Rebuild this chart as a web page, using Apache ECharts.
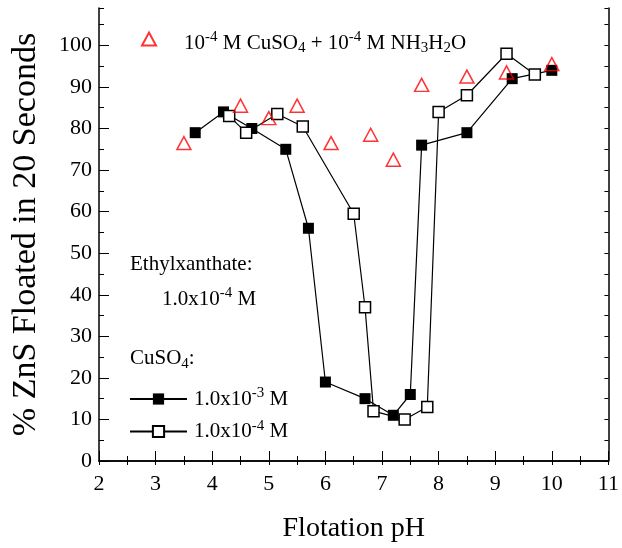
<!DOCTYPE html>
<html>
<head>
<meta charset="utf-8">
<script src="https://cdn.jsdelivr.net/npm/echarts@6/dist/echarts.min.js"></script>
<style>
  html, body { margin: 0; padding: 0; background: #fff; }
  #chart { width: 622px; height: 548px; }
</style>
</head>
<body>
<div id="chart"></div>
<script>
// flotation of ZnS vs pH, ethylxanthate 1.0x10^-4 M
const phHigh = [3.7, 4.2, 4.7, 5.3, 5.7, 6.0, 6.7, 7.2, 7.5, 7.7, 8.5, 9.3, 10.0]
const floatHigh = [79, 84, 80, 75, 56, 19, 15, 11, 16, 76, 79, 92, 94]

const phLow = [4.3, 4.6, 5.15, 5.6, 6.5, 6.7, 6.85, 7.4, 7.8, 8.0, 8.5, 9.2, 9.7]
const floatLow = [83, 79, 83.5, 80.5, 59.5, 37, 12, 10, 13, 84, 88, 98, 93]

const phNh3 = [3.5, 4.5, 5.0, 5.5, 6.1, 6.8, 7.2, 7.7, 8.5, 9.2, 10.0]
const floatNh3 = [76.5, 85.5, 82.5, 85.5, 76.5, 78.5, 72.5, 90.5, 92.5, 93.5, 95.5]

const xTitle = 'Flotation pH'
const yTitle = '% ZnS Floated in 20 Seconds'

const FONT = 'Liberation Serif'
const pairs = (xs, ys) => xs.map((x, i) => [x, ys[i]])

const rich = {
  n: { fontFamily: FONT, fontSize: 21, lineHeight: 26, color: '#000' },
  sup: { fontFamily: FONT, fontSize: 15, lineHeight: 14, verticalAlign: 'top', color: '#000' },
  sub: { fontFamily: FONT, fontSize: 15, lineHeight: 14, verticalAlign: 'bottom', color: '#000' },
}

const legendText = {
  nh3: '{n|10}{sup|-4}{n| M CuSO}{sub|4}{n| + 10}{sup|-4}{n| M NH}{sub|3}{n|H}{sub|2}{n|O}',
  high: '{n|1.0x10}{sup|-3}{n| M}',
  low: '{n|1.0x10}{sup|-4}{n| M}',
}

const chart = echarts.init(document.getElementById('chart'))

const tickLine = { color: '#000', width: 1 }

chart.setOption({
  animation: false,
  grid: { left: 99, right: 9, top: 8, bottom: 86 },
  xAxis: [{
    type: 'value', position: 'bottom', min: 2, max: 11, interval: 1,
    name: xTitle, nameLocation: 'middle', nameGap: 54,
    nameTextStyle: { fontFamily: FONT, fontSize: 28, color: '#000' },
    axisLine: { lineStyle: { color: '#000', width: 1.5 } },
    axisTick: { inside: true, length: 10, lineStyle: tickLine },
    minorTick: { show: true, splitNumber: 2, length: 5, lineStyle: tickLine },
    axisLabel: { fontFamily: FONT, fontSize: 22, color: '#000', margin: 12 },
    splitLine: { show: false },
  }, {
    type: 'value', position: 'top', min: 2, max: 11, interval: 0.5,
    axisLine: { show: true, lineStyle: { color: '#000', width: 1.5 } },
    axisTick: { inside: true, length: 4, lineStyle: tickLine },
    axisLabel: { show: false },
    splitLine: { show: false },
  }],
  yAxis: [{
    type: 'value', position: 'left', min: 0, max: 109, interval: 10,
    name: yTitle, nameLocation: 'middle', nameGap: 56, nameRotate: 90,
    nameTextStyle: { fontFamily: FONT, fontSize: 34, color: '#000' },
    axisLine: { show: true, lineStyle: { color: '#000', width: 1.5 } },
    axisTick: { inside: true, length: 10, lineStyle: tickLine },
    axisLabel: { fontFamily: FONT, fontSize: 22, color: '#000', margin: 7, showMaxLabel: false },
    splitLine: { show: false },
  }, {
    type: 'value', position: 'right', min: 0, max: 109, interval: 5,
    axisLine: { show: true, lineStyle: { color: '#000', width: 1.5 } },
    axisTick: { inside: true, length: 4, lineStyle: tickLine },
    axisLabel: { show: false },
    splitLine: { show: false },
  }, {
    // short ticks at the fives on the left
    type: 'value', position: 'left', min: 0, max: 109, interval: 5,
    axisLine: { show: false },
    axisTick: { inside: true, length: 5, lineStyle: tickLine },
    axisLabel: { show: false },
    splitLine: { show: false },
  }],
  legend: [{
    data: ['nh3'], left: 141, top: 30, padding: 0,
    itemWidth: 14, itemHeight: 13,
    formatter: (name) => legendText[name],
    textStyle: { rich, padding: [8, 0, 0, 23] },
  }, {
    data: ['high', 'low'], orient: 'vertical', left: 129, top: 386, padding: 0,
    itemWidth: 57, itemHeight: 14, itemGap: 9,
    formatter: (name) => legendText[name],
    textStyle: { rich, padding: [0, 0, 0, 2] },
  }],
  graphic: [
    { type: 'text', left: 130, top: 254, style: { text: '{n|Ethylxanthate:}', rich } },
    { type: 'text', left: 162, top: 286, style: { text: '{n|1.0x10}{sup|-4}{n| M}', rich } },
    { type: 'text', left: 130, top: 348, style: { text: '{n|CuSO}{sub|4}{n|:}', rich } },
  ],
  series: [{
    name: 'high', type: 'line', data: pairs(phHigh, floatHigh),
    symbol: 'rect', symbolSize: 11,
    lineStyle: { color: '#000', width: 1.2 },
    itemStyle: { color: '#000', borderColor: '#000', borderWidth: 0 },
  }, {
    name: 'low', type: 'line', data: pairs(phLow, floatLow),
    symbol: 'rect', symbolSize: 11,
    lineStyle: { color: '#000', width: 1.2 },
    itemStyle: { color: '#fff', borderColor: '#000', borderWidth: 1.5 },
  }, {
    name: 'nh3', type: 'scatter', data: pairs(phNh3, floatNh3),
    symbol: 'triangle', symbolSize: [14, 13], z: 5,
    itemStyle: { color: 'rgba(255,255,255,0)', borderColor: '#ff0000', borderWidth: 1.5 },
  }],
})
</script>
</body>
</html>
